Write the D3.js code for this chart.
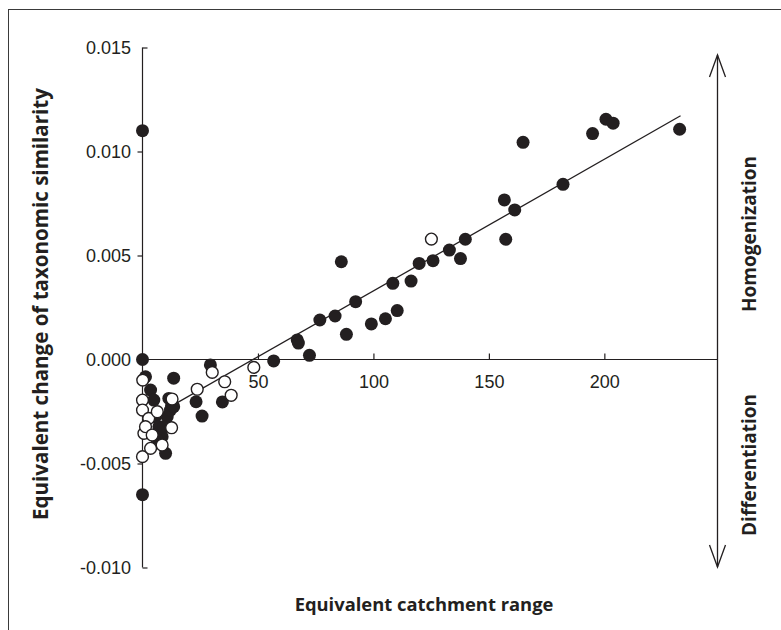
<!DOCTYPE html>
<html>
<head>
<meta charset="utf-8">
<script src="https://cdn.jsdelivr.net/npm/d3@7"></script>
<style>
  html, body { margin: 0; padding: 0; background: #fff; }
  svg { display: block; }
</style>
</head>
<body>
<svg id="chart" width="781" height="630"></svg>
<script>
// ---- data (y values in units of 0.001) ----
const filledX = [0, 0, 0,
  164.8, 194.9, 200.7, 203.8, 232.6, 182.1, 156.7, 161.2, 139.8, 157.3, 137.7,
  86.1, 132.9, 125.8, 119.8, 108.4, 116.3, 92.3, 83.4, 76.8, 110.3, 105.2, 99.1, 88.3, 67.0, 67.5, 72.3, 56.8,
  29.4, 13.5, 34.6, 25.8, 23.2,
  12.6, 1.3, 3.5, 4.9, 5.6, 7.1, 8.5, 6.4, 10.0, 10.7, 12.1, 9.2, 11.4, 13.5];
const filledY = [11.0, 0.0, -6.5,
  10.44, 10.86, 11.55, 11.36, 11.07, 8.42, 7.67, 7.19, 5.78, 5.78, 4.85,
  4.70, 5.26, 4.75, 4.62, 3.66, 3.77, 2.78, 2.09, 1.90, 2.35, 1.96, 1.71, 1.21, 0.94, 0.79, 0.20, -0.07,
  -0.26, -0.90, -2.04, -2.72, -2.03,
  -2.24, -0.83, -1.47, -1.95, -2.75, -3.23, -3.71, -3.87, -4.51, -2.75, -2.43, -3.23, -1.87, -2.27];
const openX = [125.1, 48.2, 30.2, 35.6, 38.4, 23.7, 12.8,
  0.1, 0.0, 0.0, 0.6, 0.0, 2.7, 1.3, 3.5, 6.4, 4.2, 8.5, 12.6];
const openY = [5.79, -0.38, -0.62, -1.07, -1.72, -1.43, -1.90,
  -0.99, -1.95, -2.43, -3.55, -4.67, -2.83, -3.23, -4.27, -2.51, -3.63, -4.11, -3.28];
const fitX = [10, 233];
const fitY = [-2.40, 11.72];
const xTicks = [50, 100, 150, 200];
const yTicks = [-0.010, -0.005, 0.000, 0.005, 0.010, 0.015];
const xTitle = "Equivalent catchment range";
const yTitle = "Equivalent change of taxonomic similarity";
const upLabel = "Homogenization";
const downLabel = "Differentiation";

// ---- drawing ----
const ink = "#231f20";
const svg = d3.select("#chart");
const x = d3.scaleLinear().domain([0, 249]).range([142.5, 717.5]);
const y = d3.scaleLinear().domain([-0.010, 0.015]).range([567.5, 47.5]);

// frame
svg.append("rect").attr("x", 8.5).attr("y", 9.5).attr("width", 800).attr("height", 700)
  .attr("fill", "none").attr("stroke", "#3a3a3a").attr("stroke-width", 1);

const tickFont = "'Liberation Sans', Arial, sans-serif";

// y axis
const yAxis = svg.append("g").attr("transform", `translate(${x(0)},0)`)
  .call(d3.axisLeft(y).tickValues(yTicks).tickSize(5).tickSizeOuter(0).tickPadding(6.5)
    .tickFormat(d => d3.format(".3f")(d).replace("\u2212", "-")));
yAxis.select(".domain").remove();
yAxis.append("line").attr("x1", 0).attr("x2", 0).attr("y1", y(0.015)).attr("y2", y(-0.010))
  .attr("stroke", ink).attr("stroke-width", 1.2);
yAxis.selectAll(".tick line").attr("stroke", ink).attr("stroke-width", 1.2)
  .filter(d => d === 0.015 || d === -0.010).attr("x2", 5);
yAxis.selectAll(".tick text").attr("font-family", tickFont).attr("font-size", 18).attr("fill", ink);

// x axis
const xAxis = svg.append("g").attr("transform", `translate(0,${y(0)})`)
  .call(d3.axisBottom(x).tickValues(xTicks).tickSize(-6).tickSizeOuter(0).tickPadding(15.5));
xAxis.select(".domain").remove();
xAxis.append("line").attr("x1", x(0)).attr("x2", x.range()[1]).attr("y1", 0).attr("y2", 0)
  .attr("stroke", ink).attr("stroke-width", 1.2);
xAxis.selectAll(".tick line").attr("stroke", ink).attr("stroke-width", 1.2);
xAxis.selectAll(".tick text").attr("font-family", tickFont).attr("font-size", 18).attr("fill", ink);

// right-hand double arrow
const ax = x.range()[1];
const yTop = 55, yBot = 567;
svg.append("line").attr("x1", ax).attr("x2", ax).attr("y1", yTop).attr("y2", yBot)
  .attr("stroke", ink).attr("stroke-width", 1.3);
svg.append("path").attr("d", `M${ax - 8},${yTop + 22} L${ax},${yTop} L${ax + 8},${yTop + 22}`)
  .attr("fill", "none").attr("stroke", ink).attr("stroke-width", 1.3);
svg.append("path").attr("d", `M${ax - 8},${yBot - 22} L${ax},${yBot} L${ax + 8},${yBot - 22}`)
  .attr("fill", "none").attr("stroke", ink).attr("stroke-width", 1.3);

// regression line
const line = d3.line().x(d => x(d[0])).y(d => y(d[1] / 1000));
svg.append("path").datum(d3.zip(fitX, fitY)).attr("d", line)
  .attr("fill", "none").attr("stroke", ink).attr("stroke-width", 1.3);

// points
const r = 6.5;
svg.append("g").selectAll("circle").data(d3.zip(filledX, filledY)).join("circle")
  .attr("cx", d => x(d[0])).attr("cy", d => y(d[1] / 1000)).attr("r", r)
  .attr("fill", ink);
svg.append("g").selectAll("circle").data(d3.zip(openX, openY)).join("circle")
  .attr("cx", d => x(d[0])).attr("cy", d => y(d[1] / 1000)).attr("r", r - 0.6)
  .attr("fill", "#fff").attr("stroke", ink).attr("stroke-width", 1.4);

// titles
const titleFont = "'Open Sans', 'Noto Sans', sans-serif";
function fitText(sel, target) {
  const w = sel.node().getComputedTextLength();
  const fs = parseFloat(sel.attr("font-size"));
  const nfs = fs * target / w;
  sel.attr("font-size", nfs.toFixed(2));
  return nfs;
}
function title(tf, txt, fs) {
  return svg.append("text").attr("transform", tf).attr("text-anchor", "middle")
    .attr("font-family", titleFont).attr("font-weight", 700).attr("font-size", fs).attr("fill", ink)
    .text(txt);
}
const xt = title("translate(424,611)", xTitle, 17);
fitText(xt, 259);
const yt = title("translate(48,304) rotate(-90)", yTitle, 17);
fitText(yt, 432);
const dt = title("translate(756,465) rotate(-90)", downLabel, 17);
const fsR = fitText(dt, 142);
title("translate(756,234) rotate(-90)", upLabel, fsR.toFixed(2));
</script>
</body>
</html>
